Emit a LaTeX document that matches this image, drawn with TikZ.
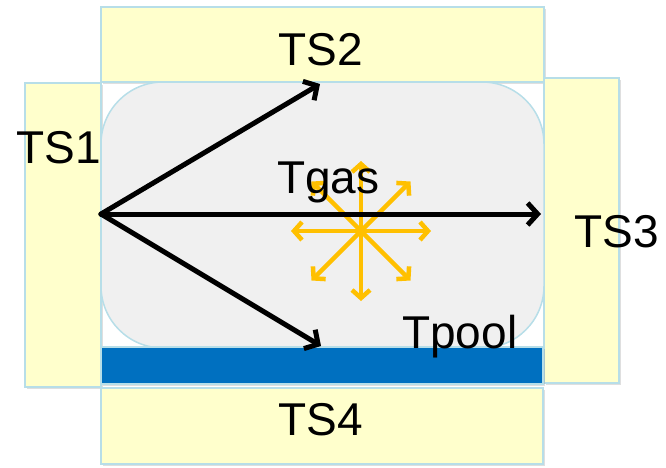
\documentclass[tikz,border=0pt]{standalone}
\usepackage{fontspec}
\setmainfont{Liberation Sans}
\usetikzlibrary{arrows.meta,shadows}
\definecolor{tsyellow}{HTML}{FFFFCC}
\definecolor{tsedge}{HTML}{B7DEE8}
\definecolor{gasfill}{HTML}{F0F0F0}
\definecolor{poolblue}{HTML}{0070C0}
\definecolor{starorange}{HTML}{FFC000}
\begin{document}
\begin{tikzpicture}[x=1pt,y=-1pt,
  tsbox/.style={draw=tsedge, line width=1.5pt, fill=tsyellow, inner sep=0pt, outer sep=0pt,
    drop shadow={opacity=0.25, shadow xshift=2pt, shadow yshift=-2pt}},
  gasbox/.style={draw=tsedge, line width=1.5pt, fill=gasfill, rounded corners=62pt, inner sep=0pt, outer sep=0pt},
  poolbox/.style={draw=tsedge, line width=1.2pt, fill=poolblue, inner sep=0pt, outer sep=0pt,
    drop shadow={opacity=0.25, shadow xshift=2pt, shadow yshift=-2pt}},
  lbl/.style={inner sep=0pt, font=\fontsize{46}{46}\selectfont},
  heat/.style={black, line width=5pt, line cap=round, -{Straight Barb[length=10pt,width=22pt,line width=5pt]}},
  rad/.style={draw=starorange, line width=4.5pt, line cap=round, -{Straight Barb[length=8pt,width=18pt,line width=4.5pt]}}
]
\useasboundingbox (0,0) rectangle (666,467);
\node[tsbox, minimum width=443pt, minimum height=75pt] (ts2) at (322.5,44.5) {};
\node[tsbox, minimum width=76pt, minimum height=304pt] (ts1) at (63,235) {};
\node[tsbox, minimum width=75pt, minimum height=305pt] (ts3) at (581.5,230.5) {};
\node[tsbox, minimum width=442pt, minimum height=76pt] (ts4) at (322,426) {};
\node[gasbox, minimum width=443pt, minimum height=266pt] (gas) at (322.5,215) {};
\node[poolbox, minimum width=442pt, minimum height=37pt] (pool) at (322,365.5) {};
% radiation star
\coordinate (c) at (361,231);
\foreach \a in {0,45,...,315}{
  \draw[rad] (c) -- ++(\a:70);
}
% heat arrows
\coordinate (src) at (101,214);
\coordinate (t2) at (320,84);
\coordinate (t3) at (541,214);
\coordinate (t4) at (321,346);
\draw[heat] (src) -- (t2);
\draw[heat] (src) -- (t3);
\draw[heat] (src) -- (t4);
% labels
\node[lbl] (l2) at (321,50) {TS2};
\node[lbl] (l1) at (59,148) {TS1};
\node[lbl] (l3) at (617,232) {TS3};
\node[lbl] (l4) at (321,420) {TS4};
\node[lbl, anchor=base west] (lgas) at (277,193) {Tgas};
\node[lbl, anchor=base west] (lpool) at (402,348) {Tpool};
\end{tikzpicture}
\end{document}
